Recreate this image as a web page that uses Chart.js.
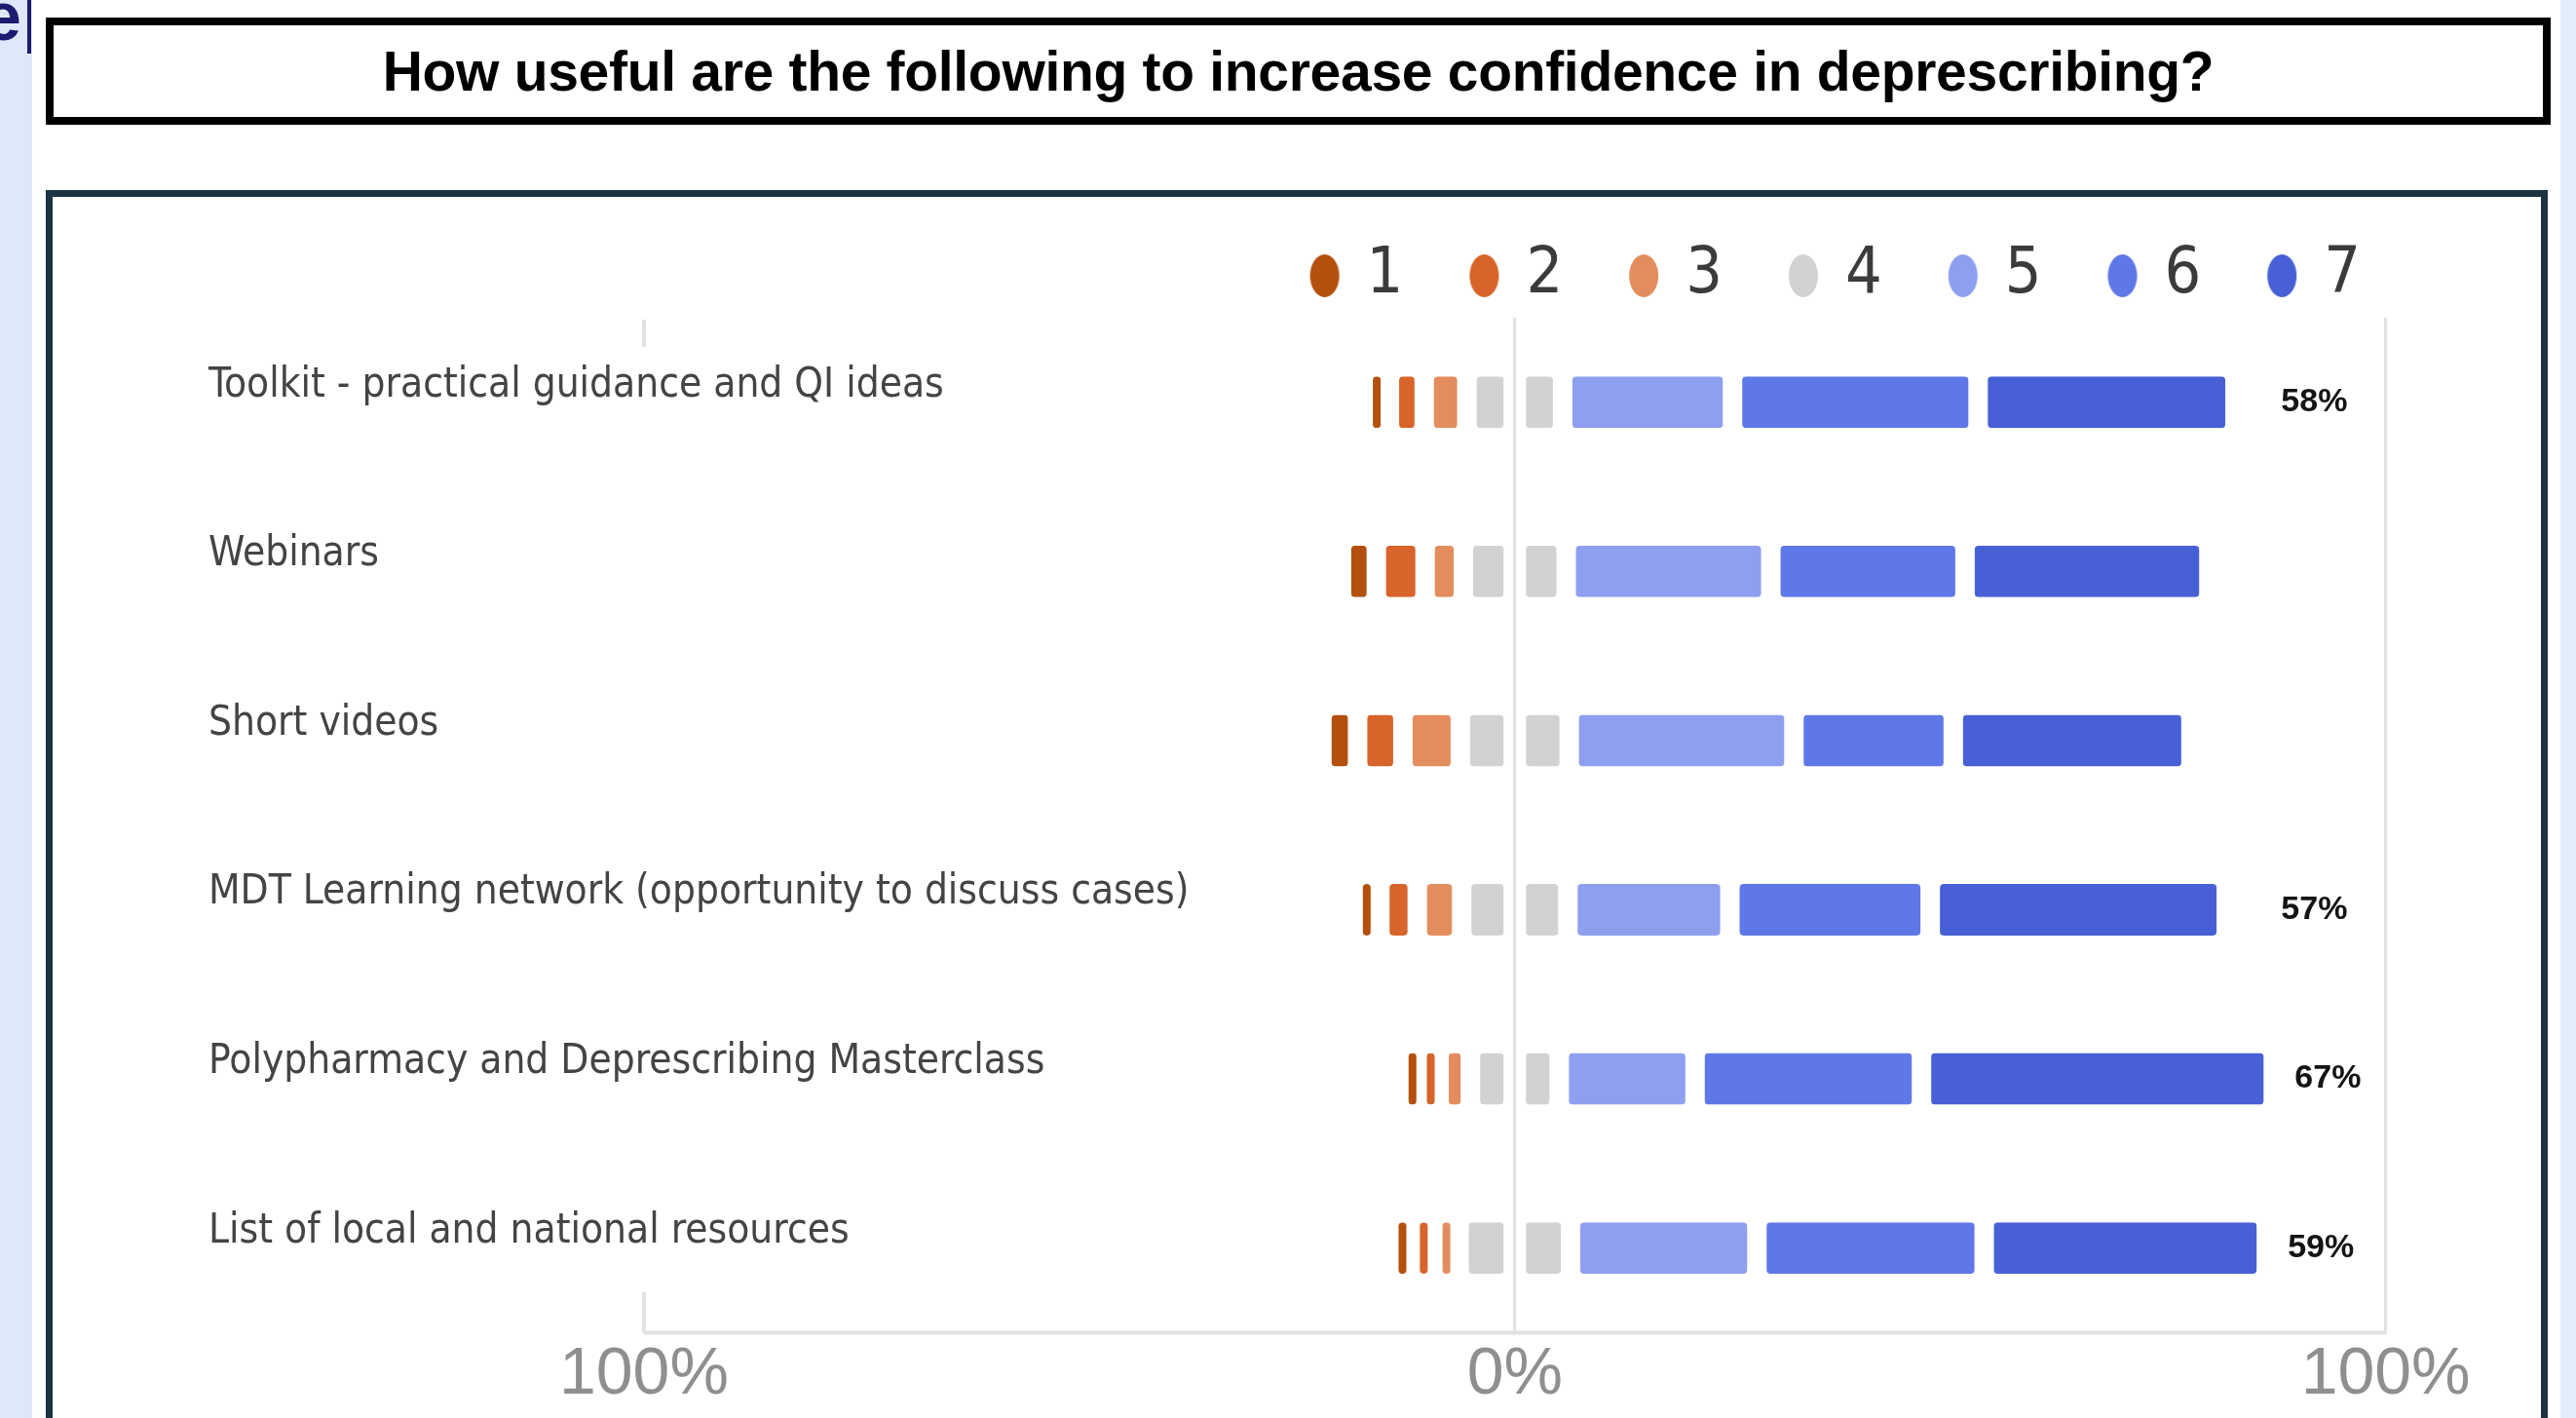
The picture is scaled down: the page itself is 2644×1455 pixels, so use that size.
<!DOCTYPE html>
<html>
<head>
<meta charset="utf-8">
<title>How useful are the following to increase confidence in deprescribing?</title>
<script src="https://cdn.jsdelivr.net/npm/chart.js@4.4.1/dist/chart.umd.min.js"></script>
<style>
  html, body { margin: 0; padding: 0; width: 2644px; height: 1455px; overflow: hidden; background: #fff; }
  .strip-left { position: absolute; left: 0; top: 0; width: 33px; height: 1455px; background: #dde9fb; overflow: hidden; }
  .strip-left span { position: absolute; left: -17px; top: -18px; font: bold 70px/70px 'Liberation Sans', Arial, sans-serif; color: #1b1b6f; }
  .cursor { position: absolute; left: 28px; top: 0; width: 4px; height: 55px; background: #1b1b6f; }
  .strip-right { position: absolute; left: 2628px; top: 0; width: 16px; height: 1455px; background: #e4edfc; }
  .title-box {
    position: absolute; left: 47px; top: 18px; width: 2571px; height: 110px;
    box-sizing: border-box; border: 8px solid #000;
    display: flex; align-items: center; justify-content: center;
    font: bold 57px 'Liberation Sans', Arial, sans-serif; letter-spacing: -0.3px; color: #000;
  }
  .chart-box { position: absolute; left: 47px; top: 195px; width: 2568px; height: 1300px; box-sizing: border-box; border: 7px solid #1b3342; }
  .chart-wrap { position: absolute; left: 0; top: 120px; width: 2644px; height: 1335px; }
</style>
</head>
<body>
<div class="strip-left"><span>e</span></div>
<div class="cursor"></div>
<div class="strip-right"></div>
<div class="title-box">How useful are the following to increase confidence in deprescribing?</div>
<div class="chart-box"></div>
<div class="chart-wrap"><canvas id="likertChart"></canvas></div>

<script>
// Данные (в % респондентов по каждой оценке 1..7)
const categories = [
  'Toolkit - practical guidance and QI ideas',
  'Webinars',
  'Short videos',
  'MDT Learning network (opportunity to discuss cases)',
  'Polypharmacy and Deprescribing Masterclass',
  'List of local and national resources'
];
const rating1 = [2.9, 4.0, 4.1, 3.0, 2.3, 2.6];
const rating2 = [4.0, 5.6, 5.2, 4.3, 1.9, 2.3];
const rating3 = [4.9, 4.4, 6.6, 5.1, 3.6, 2.9];
const rating4 = [11.0, 11.8, 12.5, 12.2, 10.2, 12.8];
const rating5 = [19.5, 23.5, 25.8, 18.6, 15.6, 21.4];
const rating6 = [28.2, 22.3, 18.3, 23.0, 26.0, 26.1];
const rating7 = [29.5, 28.0, 27.3, 34.0, 40.4, 32.4];
const topTwoLabels = [58, null, null, 57, 67, 59];
const xTicks = [-100, 0, 100];

const FONT_NARROW = "'DejaVu Sans Condensed', 'Liberation Sans', sans-serif";
const FONT_SANS = "'Liberation Sans', Arial, sans-serif";

const COLORS = {
  '1': '#b4500e',
  '2': '#d7642a',
  '3': '#e38d5e',
  '4': '#d2d2d2',
  '5': '#8e9ff0',
  '6': '#5f78e8',
  '7': '#4760d6'
};

// Овальные маркеры легенды
function ovalDot(color) {
  const c = document.createElement('canvas');
  c.width = 32;
  c.height = 46;
  const g = c.getContext('2d');
  g.fillStyle = color;
  g.beginPath();
  g.ellipse(16, 23, 15, 22, 0, 0, Math.PI * 2);
  g.fill();
  return c;
}
const DOTS = {};
Object.keys(COLORS).forEach(k => { DOTS[k] = ovalDot(COLORS[k]); });

// Белые промежутки между сегментами (узкие сегменты остаются видимыми)
function segmentGap(ctx) {
  const none = { left: 0, right: 0, top: 0, bottom: 0 };
  if (ctx.raw == null) return none;
  const x = ctx.chart.scales.x;
  if (!x) return none;
  const w = Math.abs(x.getPixelForValue(Math.abs(ctx.raw)) - x.getPixelForValue(0));
  if (!isFinite(w)) return none;
  const side = Math.max(0, Math.min(10, (w - 8) / 2));
  return { left: side, right: side, top: 0, bottom: 0 };
}

function makeDataset(label, values) {
  return {
    label: label,
    data: values,
    backgroundColor: COLORS[label],
    borderColor: 'rgba(0,0,0,0)',
    borderWidth: segmentGap,
    borderSkipped: false,
    borderRadius: { topLeft: 14, topRight: 14, bottomLeft: 14, bottomRight: 14 },
    inflateAmount: 0,
    barPercentage: 0.305,
    categoryPercentage: 1,
    stack: 'likert'
  };
}

const neg = arr => arr.map(v => -v);
const half = arr => arr.map(v => v / 2);

// Порядок важен: отрицательная сторона складывается от нуля (4, 3, 2, 1)
const datasets = [
  makeDataset('4', neg(half(rating4))),
  makeDataset('3', neg(rating3)),
  makeDataset('2', neg(rating2)),
  makeDataset('1', neg(rating1)),
  makeDataset('4', half(rating4)),
  makeDataset('5', rating5),
  makeDataset('6', rating6),
  makeDataset('7', rating7)
];
const NEUTRAL_RIGHT = 4;
const TOP_DATASET = 7;

// Линия оси и короткие засечки у -100%
const axisDecor = {
  id: 'axisDecor',
  beforeDatasetsDraw(chart) {
    const { ctx, chartArea, scales: { x } } = chart;
    const left = x.getPixelForValue(xTicks[0]);
    const right = x.getPixelForValue(xTicks[xTicks.length - 1]);
    ctx.save();
    ctx.strokeStyle = '#e2e2e2';
    ctx.lineWidth = 4;
    ctx.beginPath();
    ctx.moveTo(left, chartArea.bottom);
    ctx.lineTo(right + 1, chartArea.bottom);
    ctx.moveTo(left, chartArea.top + 2);
    ctx.lineTo(left, chartArea.top + 30);
    ctx.moveTo(left, chartArea.bottom - 42);
    ctx.lineTo(left, chartArea.bottom);
    ctx.stroke();
    ctx.restore();
  }
};

// Подписи "6+7" справа от столбцов
const topTwoPlugin = {
  id: 'topTwo',
  afterDatasetsDraw(chart) {
    const { ctx, scales: { x } } = chart;
    const meta = chart.getDatasetMeta(TOP_DATASET);
    ctx.save();
    ctx.font = 'bold 34px ' + FONT_SANS;
    ctx.fillStyle = '#141414';
    ctx.textBaseline = 'middle';
    ctx.textAlign = 'left';
    topTwoLabels.forEach((v, i) => {
      if (v == null) return;
      const bar = meta.data[i];
      const xPos = Math.max(bar.x + 22, x.getPixelForValue(88));
      ctx.fillText(v + '%', xPos, bar.y);
    });
    ctx.restore();
  }
};

function renderChart() {
  const canvas = document.getElementById('likertChart');
  return new Chart(canvas.getContext('2d'), {
    type: 'bar',
    data: { labels: categories, datasets: datasets },
    options: {
      indexAxis: 'y',
      responsive: true,
      maintainAspectRatio: false,
      animation: false,
      layout: { padding: { left: 214, right: 148, top: 57, bottom: 0 } },
      scales: {
        x: {
          type: 'linear',
          min: -150,
          max: 105.3,
          stacked: true,
          afterBuildTicks: axis => { axis.ticks = xTicks.map(v => ({ value: v })); },
          ticks: {
            callback: v => Math.abs(v) + '%',
            color: '#8f8f8f',
            font: { family: FONT_SANS, size: 68 },
            padding: 3,
            maxRotation: 0,
            autoSkip: false
          },
          grid: {
            color: c => (c.tick && c.tick.value === xTicks[0]) ? 'rgba(0,0,0,0)' : '#e2e2e2',
            lineWidth: 3,
            drawTicks: false
          },
          border: { display: false }
        },
        y: {
          type: 'category',
          stacked: true,
          ticks: {
            mirror: true,
            padding: 0,
            labelOffset: -17,
            crossAlign: 'near',
            color: '#444444',
            font: { family: FONT_NARROW, size: 42 }
          },
          grid: { display: false, drawTicks: false },
          border: { display: false }
        }
      },
      plugins: {
        tooltip: { enabled: false },
        legend: {
          position: 'top',
          align: 'end',
          labels: {
            usePointStyle: true,
            pointStyleWidth: 20,
            padding: 73,
            color: '#3b3b3b',
            font: { family: FONT_NARROW, size: 66 },
            generateLabels(chart) {
              const items = Chart.defaults.plugins.legend.labels.generateLabels(chart);
              return items
                .filter(it => it.datasetIndex !== NEUTRAL_RIGHT)
                .map(it => { it.pointStyle = DOTS[it.text]; return it; })
                .sort((a, b) => Number(a.text) - Number(b.text));
            }
          }
        }
      }
    },
    plugins: [axisDecor, topTwoPlugin]
  });
}

document.addEventListener('DOMContentLoaded', renderChart);
</script>
</body>
</html>
